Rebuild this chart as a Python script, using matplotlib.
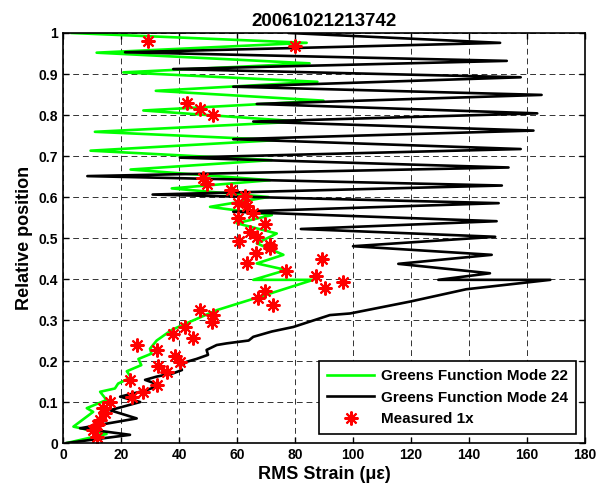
import matplotlib
matplotlib.use("Agg")
import matplotlib.pyplot as plt

# Greens function, mode 22 (turning points, top to bottom)
mode22_x = [3, 84, 11.6, 85, 20.8, 87.7, 32, 89.8, 27.7, 81.7, 11, 74.3,
            9.5, 72, 23.3, 71.4, 37.5, 70.8, 50.7, 72, 59.9, 73.7, 66.8,
            76, 66.8, 77, 65.6, 86.3, 68, 53, 42.6, 37.5, 32.3, 30, 30.5,
            26, 27, 22, 23.5, 19, 17.9, 12.8, 15, 8.2, 10.4, 3.6, 15, 1.3]
mode22_y = [1.0, 0.976, 0.952, 0.926, 0.904, 0.881, 0.859, 0.835, 0.811,
            0.784, 0.759, 0.739, 0.713, 0.690, 0.667, 0.641, 0.621, 0.60,
            0.576, 0.556, 0.536, 0.511, 0.487, 0.459, 0.438, 0.422, 0.398,
            0.398, 0.357, 0.324, 0.292, 0.276, 0.250, 0.230, 0.218, 0.205,
            0.19, 0.175, 0.16, 0.145, 0.133, 0.125, 0.105, 0.085, 0.076,
            0.04, 0.022, 0.0]

# Greens function, mode 24 (turning points, top to bottom)
mode24_x = [78, 150.7, 21.4, 153, 38, 157.8, 58.7, 165, 66.8, 163.5, 65.6,
            162.2, 58.7, 157.8, 40.3, 153.6, 8.4, 151.3, 30.9, 150.2, 58.7,
            149.5, 82, 149, 100, 147.8, 115.6, 147.2, 129.4, 168, 139,
            119.7, 99, 92, 79.4, 72, 65.6, 64, 56.4, 53, 49.5, 50, 46, 42.6,
            40.3, 41, 38, 32.3, 28.3, 33.4, 28.8, 19.7, 26.6, 16.2, 25.4,
            5.9, 23.1, 1.3]
mode24_y = [1.0, 0.976, 0.953, 0.932, 0.912, 0.892, 0.869, 0.849, 0.827,
            0.804, 0.784, 0.762, 0.741, 0.717, 0.696, 0.672, 0.651, 0.628,
            0.606, 0.585, 0.564, 0.541, 0.522, 0.503, 0.48, 0.459, 0.437,
            0.414, 0.398, 0.398, 0.375, 0.345, 0.316, 0.312, 0.283, 0.272,
            0.259, 0.25, 0.243, 0.239, 0.227, 0.215, 0.205, 0.198, 0.187,
            0.178, 0.17, 0.162, 0.154, 0.141, 0.129, 0.113, 0.1, 0.08,
            0.06, 0.036, 0.02, 0.0]

# Measured 1x
meas_x = [29.3, 80, 42.8, 47.2, 51.7, 48.4, 49.5, 57.8, 62.8, 60.5, 63.3,
          65.6, 60.5, 69.7, 64.5, 66.8, 60.8, 71.4, 71.4, 66.6, 63.3, 76.9,
          89.2, 87.2, 90.3, 96.7, 69.7, 67.4, 72.3, 47.2, 51.8, 51.3, 42.1,
          38, 44.9, 25.4, 32.3, 38.6, 40.3, 32.9, 35.8, 23.1, 32.3, 27.7,
          23.7, 16.2, 13.9, 14.5, 12.8, 11.6, 10.4, 11.6]
meas_y = [0.98, 0.968, 0.829, 0.815, 0.8, 0.647, 0.631, 0.617, 0.603,
          0.585, 0.577, 0.56, 0.548, 0.533, 0.515, 0.503, 0.493, 0.483,
          0.475, 0.463, 0.438, 0.42, 0.45, 0.407, 0.379, 0.393, 0.37,
          0.353, 0.337, 0.324, 0.312, 0.296, 0.284, 0.267, 0.255, 0.239,
          0.227, 0.212, 0.198, 0.187, 0.172, 0.154, 0.141, 0.125, 0.113,
          0.1, 0.085, 0.072, 0.056, 0.044, 0.032, 0.015]

x_ticks = [0, 20, 40, 60, 80, 100, 120, 140, 160, 180]
y_ticks = [0, 0.1, 0.2, 0.3, 0.4, 0.5, 0.6, 0.7, 0.8, 0.9, 1]
y_tick_labels = ["0", "0.1", "0.2", "0.3", "0.4", "0.5", "0.6", "0.7",
                 "0.8", "0.9", "1"]


def main():
    """Draws the strain profile chart and saves it to out.png"""
    plt.rcParams['font.family'] = ['Liberation Sans', 'DejaVu Sans']
    plt.rcParams['font.weight'] = 'bold'

    fig = plt.figure(figsize=(5.96, 4.94), dpi=100)
    ax = fig.add_axes([0.1057, 0.1032, 0.876, 0.830])

    ax.plot(mode22_x, mode22_y, color=(0, 1, 0), lw=1.9,
            label="Greens Function Mode 22")
    ax.plot(mode24_x, mode24_y, color="black", lw=1.9,
            label="Greens Function Mode 24")
    ax.plot(meas_x, meas_y, ls="none", marker=(8, 2, 0), ms=10, mew=1.5,
            color="red", label="Measured 1x")

    ax.set_xlim(0, 180)
    ax.set_ylim(0, 1)
    ax.set_xticks(x_ticks)
    ax.set_yticks(y_ticks)
    ax.set_yticklabels(y_tick_labels)
    ax.tick_params(direction="in", top=True, right=True, labelsize=10,
                   length=4, width=1)
    for lab in ax.get_xticklabels() + ax.get_yticklabels():
        lab.set_fontweight("bold")

    ax.grid(True, color="black", ls=(0, (6, 4)), lw=0.7, alpha=0.8)
    for sp in ax.spines.values():
        sp.set_linewidth(1.2)

    ax.set_title("20061021213742", fontsize=13.5, fontweight="bold", pad=5)
    ax.set_xlabel("RMS Strain (\u03bc\u03b5)", fontsize=13,
                  fontweight="bold", labelpad=3)
    ax.set_ylabel("Relative position", fontsize=13, fontweight="bold",
                  labelpad=4)

    leg = ax.legend(loc="lower right", fontsize=11, frameon=True,
                    fancybox=False, edgecolor="black", framealpha=1,
                    borderaxespad=0.6, handlelength=3.1, handletextpad=0.45,
                    labelspacing=0.5, borderpad=0.5)
    leg.get_frame().set_linewidth(1.2)

    fig.savefig("out.png", dpi=100)


if __name__ == "__main__":
    main()
